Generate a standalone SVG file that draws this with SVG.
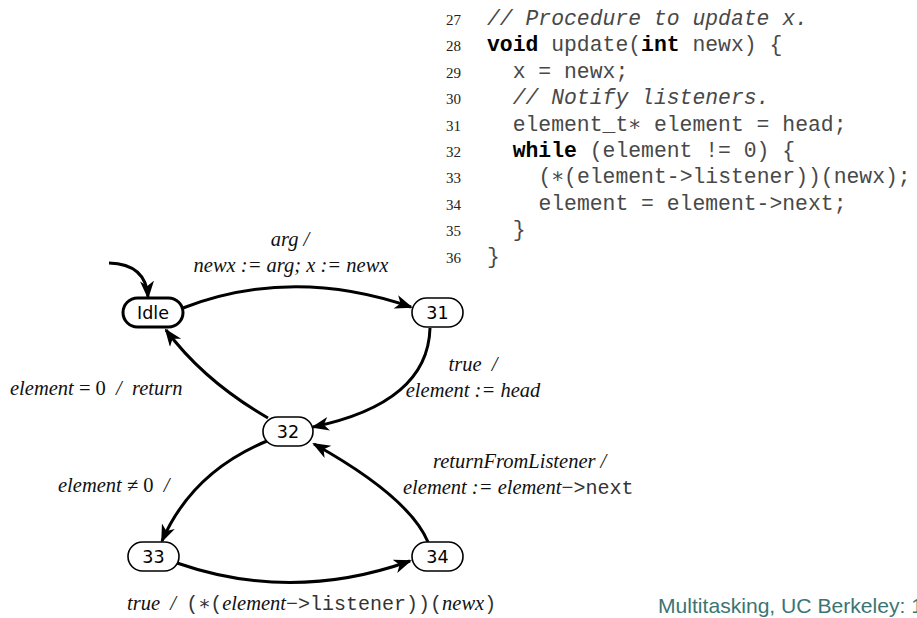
<svg xmlns="http://www.w3.org/2000/svg" width="917" height="618" viewBox="0 0 917 618">
<defs>
<style>
.code{font-family:"Liberation Mono","DejaVu Sans Mono",monospace;font-size:21.4px;fill:#484848;}
.cm{font-style:italic;}
.kw{font-weight:bold;fill:#000;}
.ln{font-family:"Liberation Serif",serif;font-size:15px;fill:#222;text-anchor:end;}
.lbl{font-family:"Liberation Serif",serif;font-size:20.5px;font-style:italic;fill:#111;white-space:pre;}
.up{font-style:normal;}
.tt{font-family:"Liberation Mono","DejaVu Sans Mono",monospace;font-style:normal;font-size:20px;fill:#333;}
.node rect{fill:#fff;stroke:#000;stroke-width:1.6;}
.node text{font-family:"DejaVu Sans",sans-serif;font-size:17.5px;fill:#000;text-anchor:middle;}
.edge{fill:none;stroke:#000;stroke-width:3;marker-end:url(#arr);}
.foot{font-family:"Liberation Sans",Arial,sans-serif;font-size:21.1px;fill:#3b7573;white-space:pre;}
</style>
<marker id="arr" markerUnits="userSpaceOnUse" markerWidth="20" markerHeight="16" refX="16" refY="7" orient="auto">
<path d="M0,0 L18,7 L0,14 L5,7 Z" fill="#000"/>
</marker>
</defs>
<rect width="917" height="618" fill="#fff"/>

<g id="code">
<text class="ln" x="461" y="25">27</text>
<text class="ln" x="461" y="51.4">28</text>
<text class="ln" x="461" y="77.8">29</text>
<text class="ln" x="461" y="104.2">30</text>
<text class="ln" x="461" y="130.6">31</text>
<text class="ln" x="461" y="157">32</text>
<text class="ln" x="461" y="183.4">33</text>
<text class="ln" x="461" y="209.8">34</text>
<text class="ln" x="461" y="236.2">35</text>
<text class="ln" x="461" y="262.6">36</text>
<text class="code cm" x="487" y="25">// Procedure to update x.</text>
<text class="code" x="487" y="51.4"><tspan class="kw">void</tspan> update(<tspan class="kw">int</tspan> newx) {</text>
<text class="code" x="512.7" y="77.8">x = newx;</text>
<text class="code cm" x="512.7" y="104.2">// Notify listeners.</text>
<text class="code" x="512.7" y="130.6">element_t∗ element = head;</text>
<text class="code" x="512.7" y="157"><tspan class="kw">while</tspan> (element != 0) {</text>
<text class="code" x="538.4" y="183.4">(∗(element-&gt;listener))(newx);</text>
<text class="code" x="538.4" y="209.8">element = element-&gt;next;</text>
<text class="code" x="512.7" y="236.2">}</text>
<text class="code" x="487" y="262.6">}</text>
</g>

<g id="connectors">
<path class="edge" d="M109,263 Q146,264 148,297"/>
<path class="edge" d="M183,308 Q292,266 411,307"/>
<path class="edge" d="M430,328 Q428,403 313,427"/>
<path class="edge" d="M268,418 Q204,381 166,330"/>
<path class="edge" d="M267,441 Q192,472 162,541"/>
<path class="edge" d="M428,542 Q409,497 314,444"/>
<path class="edge" d="M177,563 Q292,603 410,561"/>
</g>

<g id="node-idle" class="node">
<rect x="123" y="298" width="60" height="29" rx="14.5" style="stroke-width:3"/>
<text x="153" y="318.5">Idle</text>
</g>
<g id="node-31" class="node">
<rect x="412" y="298" width="51" height="29" rx="14.5"/>
<text x="437.5" y="318.5">31</text>
</g>
<g id="node-32" class="node">
<rect x="263" y="417" width="50" height="29" rx="14.5"/>
<text x="288" y="437.5">32</text>
</g>
<g id="node-33" class="node">
<rect x="128" y="542" width="51" height="29" rx="14.5"/>
<text x="153.5" y="562.5">33</text>
</g>
<g id="node-34" class="node">
<rect x="412" y="542" width="51" height="29" rx="14.5"/>
<text x="437.5" y="562.5">34</text>
</g>

<g id="labels">
<text class="lbl" x="290" y="246" text-anchor="middle">arg /</text>
<text class="lbl" x="291" y="272" text-anchor="middle">newx := arg; x := newx</text>
<text class="lbl" x="473" y="371" text-anchor="middle">true  /</text>
<text class="lbl" x="473" y="397" text-anchor="middle">element := head</text>
<text class="lbl" x="10" y="395">element <tspan class="up">= 0</tspan>  /  return</text>
<text class="lbl" x="58" y="492">element <tspan class="up">≠ 0</tspan>  /</text>
<text class="lbl" x="433" y="468">returnFromListener /</text>
<text class="lbl" x="403" y="494">element := element<tspan class="tt">−&gt;next</tspan></text>
<text class="lbl" x="127" y="610">true  /  <tspan class="tt">(∗(</tspan>element<tspan class="tt">−&gt;listener))(</tspan>newx<tspan class="tt">)</tspan></text>
</g>

<text class="foot" x="658" y="613">Multitasking, UC Berkeley: 1</text>
</svg>
